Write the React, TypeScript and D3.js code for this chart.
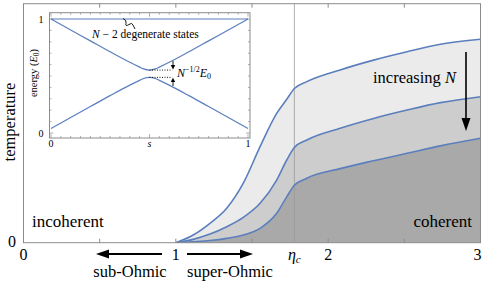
import React from 'react';
import * as d3 from 'd3';

// main panel: temperature vs. spectral exponent, three values of N
const etaC = 1.778;
const etaValues = [1.0, 1.114, 1.224, 1.334, 1.443, 1.553, 1.662, 1.728, 1.778, 1.86, 2.079, 2.298, 2.518, 2.737, 3.0];
const tempSmallN = [0, 0.032, 0.081, 0.144, 0.249, 0.402, 0.541, 0.6, 0.645, 0.674, 0.723, 0.764, 0.799, 0.83, 0.851];
const tempMidN = [0, 0.014, 0.036, 0.067, 0.106, 0.165, 0.262, 0.346, 0.398, 0.43, 0.479, 0.52, 0.555, 0.586, 0.611];
const tempLargeN = [0, 0.004, 0.009, 0.018, 0.032, 0.06, 0.123, 0.192, 0.24, 0.27, 0.31, 0.343, 0.374, 0.405, 0.437];
const xTicks = [0.5, 1, 1.5, 2, 2.5];
const xTickLabels = ['0', '1', '2', '3'];

// inset: energy levels vs. s
const sValues = [0, 0.1, 0.2, 0.3, 0.4, 0.45, 0.47, 0.5, 0.53, 0.55, 0.6, 0.7, 0.8, 0.9, 1];
const upperLevel = [1, 0.904, 0.808, 0.712, 0.62, 0.578, 0.562, 0.552, 0.562, 0.578, 0.62, 0.712, 0.808, 0.904, 1];
const lowerLevel = [0.04, 0.136, 0.232, 0.328, 0.42, 0.462, 0.478, 0.488, 0.478, 0.462, 0.42, 0.328, 0.232, 0.136, 0.04];
const degenerateLevel = [1, 1];
const degenerateS = [0, 1];

const fills = ['#ebebeb', '#cdcdcd', '#a9a9a9'];
const blue = '#5b7fbd';
const frameColor = '#8c8c8c';
const serif = "'Liberation Serif', 'DejaVu Serif', 'Times New Roman', serif";

const App = () => {
  const x = d3.scaleLinear().domain([0, 3]).range([23.5, 480.5]);
  const y = d3.scaleLinear().domain([0, 1]).range([242.7, 3.7]);

  const series = [tempSmallN, tempMidN, tempLargeN].map(vals => etaValues.map((e, i) => [e, vals[i]] as [number, number]));

  const area = d3.area<[number, number]>()
    .x(d => x(d[0]))
    .y0(y(0))
    .y1(d => y(d[1]))
    .curve(d3.curveMonotoneX);
  const line = d3.line<[number, number]>()
    .x(d => x(d[0]))
    .y(d => y(d[1]))
    .curve(d3.curveMonotoneX);

  // inset scales
  const ix = d3.scaleLinear().domain([0, 1]).range([51, 248]);
  const iy = d3.scaleLinear().domain([0, 1]).range([133, 19]);
  const iLeft = 49.5, iRight = 250, iTop = 12.7, iBottom = 138;
  const iline = d3.line<[number, number]>()
    .x(d => ix(d[0]))
    .y(d => iy(d[1]))
    .curve(d3.curveMonotoneX);
  const upper = sValues.map((s, i) => [s, upperLevel[i]] as [number, number]);
  const lower = sValues.map((s, i) => [s, lowerLevel[i]] as [number, number]);
  const flat = degenerateS.map((s, i) => [s, degenerateLevel[i]] as [number, number]);
  const gapTop = iy(upperLevel[7]);
  const gapBot = iy(lowerLevel[7]);
  const insetMinor = d3.range(0, 1.0001, 0.05);
  const insetMinorY = d3.range(0, 1.0001, 0.1);

  return (
    <svg width={484} height={288} style={{ position: 'absolute', left: 0, top: 0, background: '#fff', fontFamily: serif }}>
      <defs>
        <clipPath id="plot">
          <rect x={x(0)} y={y(1)} width={x(3) - x(0)} height={y(0) - y(1)} />
        </clipPath>
      </defs>

      <g clipPath="url(#plot)">
        {series.map((d, i) => (
          <path key={'a' + i} d={area(d) || ''} fill={fills[i]} />
        ))}
        <line x1={x(etaC)} x2={x(etaC)} y1={y(0)} y2={y(1)} stroke="#999" strokeOpacity={0.8} strokeWidth={1} />
        {series.map((d, i) => (
          <path key={'l' + i} d={line(d) || ''} fill="none" stroke={blue} strokeWidth={1.6} />
        ))}
      </g>

      {/* frame */}
      <rect x={x(0)} y={y(1)} width={x(3) - x(0)} height={y(0) - y(1)} fill="none" stroke={frameColor} strokeWidth={1} />
      {xTicks.map(t => (
        <g key={t} stroke={frameColor}>
          <line x1={x(t)} x2={x(t)} y1={y(0)} y2={y(0) - 4} />
          <line x1={x(t)} x2={x(t)} y1={y(1)} y2={y(1) + 4} />
        </g>
      ))}

      {/* x tick labels */}
      {xTickLabels.map((l, i) => (
        <text key={l} x={x(i) - (i === 3 ? 3 : 0)} y={260} fontSize={16} textAnchor="middle">{l}</text>
      ))}
      <text x={x(etaC)} y={260} fontSize={16} textAnchor="middle">
        <tspan fontStyle="italic">η</tspan>
        <tspan fontSize={11} fontStyle="italic" dy={3}>c</tspan>
      </text>
      <text x={12} y={247} fontSize={16} textAnchor="middle">0</text>
      <text transform="translate(15,122) rotate(-90)" fontSize={16.5} textAnchor="middle">temperature</text>

      {/* region labels */}
      <text x={32} y={227} fontSize={17}>incoherent</text>
      <text x={472} y={227} fontSize={17} textAnchor="end">coherent</text>
      <text x={373} y={83} fontSize={16.5}>
        increasing <tspan fontStyle="italic">N</tspan>
      </text>
      <line x1={466} x2={466} y1={52} y2={120} stroke="#000" strokeWidth={1.6} />
      <path d="M461.5,118 L470.5,118 L466,131 Z" fill="#000" />

      {/* sub/super-Ohmic arrows */}
      <line x1={162} x2={106} y1={254} y2={254} stroke="#000" strokeWidth={1.8} />
      <path d="M96,254 L109,249.5 L109,258.5 Z" fill="#000" />
      <line x1={187} x2={243} y1={254} y2={254} stroke="#000" strokeWidth={1.8} />
      <path d="M253,254 L240,249.5 L240,258.5 Z" fill="#000" />
      <text x={130} y={277} fontSize={16.5} textAnchor="middle">sub-Ohmic</text>
      <text x={230} y={277} fontSize={16.5} textAnchor="middle">super-Ohmic</text>

      {/* inset */}
      <rect x={iLeft} y={iTop} width={iRight - iLeft} height={iBottom - iTop} fill="#fff" stroke={frameColor} strokeWidth={1} />
      {insetMinor.map(t => {
        const len = Math.abs(t * 2 - Math.round(t * 2)) < 1e-6 ? 4 : 2;
        return (
          <g key={'it' + t} stroke={frameColor} strokeWidth={0.7}>
            <line x1={ix(t)} x2={ix(t)} y1={iBottom} y2={iBottom - len} />
            <line x1={ix(t)} x2={ix(t)} y1={iTop} y2={iTop + len} />
          </g>
        );
      })}
      {insetMinorY.map(t => {
        const len = t === 0 || Math.abs(t - 1) < 1e-6 ? 4 : 2;
        return (
          <g key={'iy' + t} stroke={frameColor} strokeWidth={0.7}>
            <line x1={iLeft} x2={iLeft + len} y1={iy(t)} y2={iy(t)} />
            <line x1={iRight} x2={iRight - len} y1={iy(t)} y2={iy(t)} />
          </g>
        );
      })}
      <path d={iline(flat) || ''} fill="none" stroke={blue} strokeWidth={1.2} />
      <path d={iline(upper) || ''} fill="none" stroke={blue} strokeWidth={1.2} />
      <path d={iline(lower) || ''} fill="none" stroke={blue} strokeWidth={1.2} />

      {/* gap annotation */}
      <line x1={ix(0.5)} x2={ix(0.615)} y1={gapTop} y2={gapTop} stroke="#000" strokeWidth={0.9} strokeDasharray="1,1.5" />
      <line x1={ix(0.5)} x2={ix(0.615)} y1={gapBot} y2={gapBot} stroke="#000" strokeWidth={0.9} strokeDasharray="1,1.5" />
      <line x1={173} x2={173} y1={61} y2={66} stroke="#000" strokeWidth={0.9} />
      <path d={`M170.8,65 L175.2,65 L173,${gapTop - 0.5} Z`} fill="#000" />
      <line x1={173} x2={173} y1={86} y2={81} stroke="#000" strokeWidth={0.9} />
      <path d={`M170.8,82 L175.2,82 L173,${gapBot + 0.5} Z`} fill="#000" />
      <text x={177} y={77} fontSize={12}>
        <tspan fontStyle="italic">N</tspan>
        <tspan fontSize={8} dy={-5}>−1/2</tspan>
        <tspan fontStyle="italic" dy={5}>E</tspan>
        <tspan fontSize={8} dy={2}>0</tspan>
      </text>

      {/* degenerate states label */}
      <path d="M123,18.5 Q127,20 126,23.5 Q125,27 129,24.5 Q132,22 133,25 L135,29" fill="none" stroke="#000" strokeWidth={0.9} />
      <text x={92} y={38} fontSize={11.5}>
        <tspan fontStyle="italic">N</tspan> − 2 degenerate states
      </text>

      {/* inset axes labels */}
      <text x={41} y={22.5} fontSize={10} textAnchor="middle">1</text>
      <text x={41} y={136.5} fontSize={10} textAnchor="middle">0</text>
      <text x={ix(0)} y={147} fontSize={10} textAnchor="middle">0</text>
      <text x={ix(0.5)} y={147} fontSize={10} textAnchor="middle" fontStyle="italic">s</text>
      <text x={ix(1)} y={147} fontSize={10} textAnchor="middle">1</text>
      <text transform="translate(37,73) rotate(-90)" fontSize={10.5} textAnchor="middle">
        energy (<tspan fontStyle="italic">E</tspan><tspan fontSize={7.5} dy={2}>0</tspan><tspan dy={-2}>)</tspan>
      </text>
    </svg>
  );
};

export default App;
